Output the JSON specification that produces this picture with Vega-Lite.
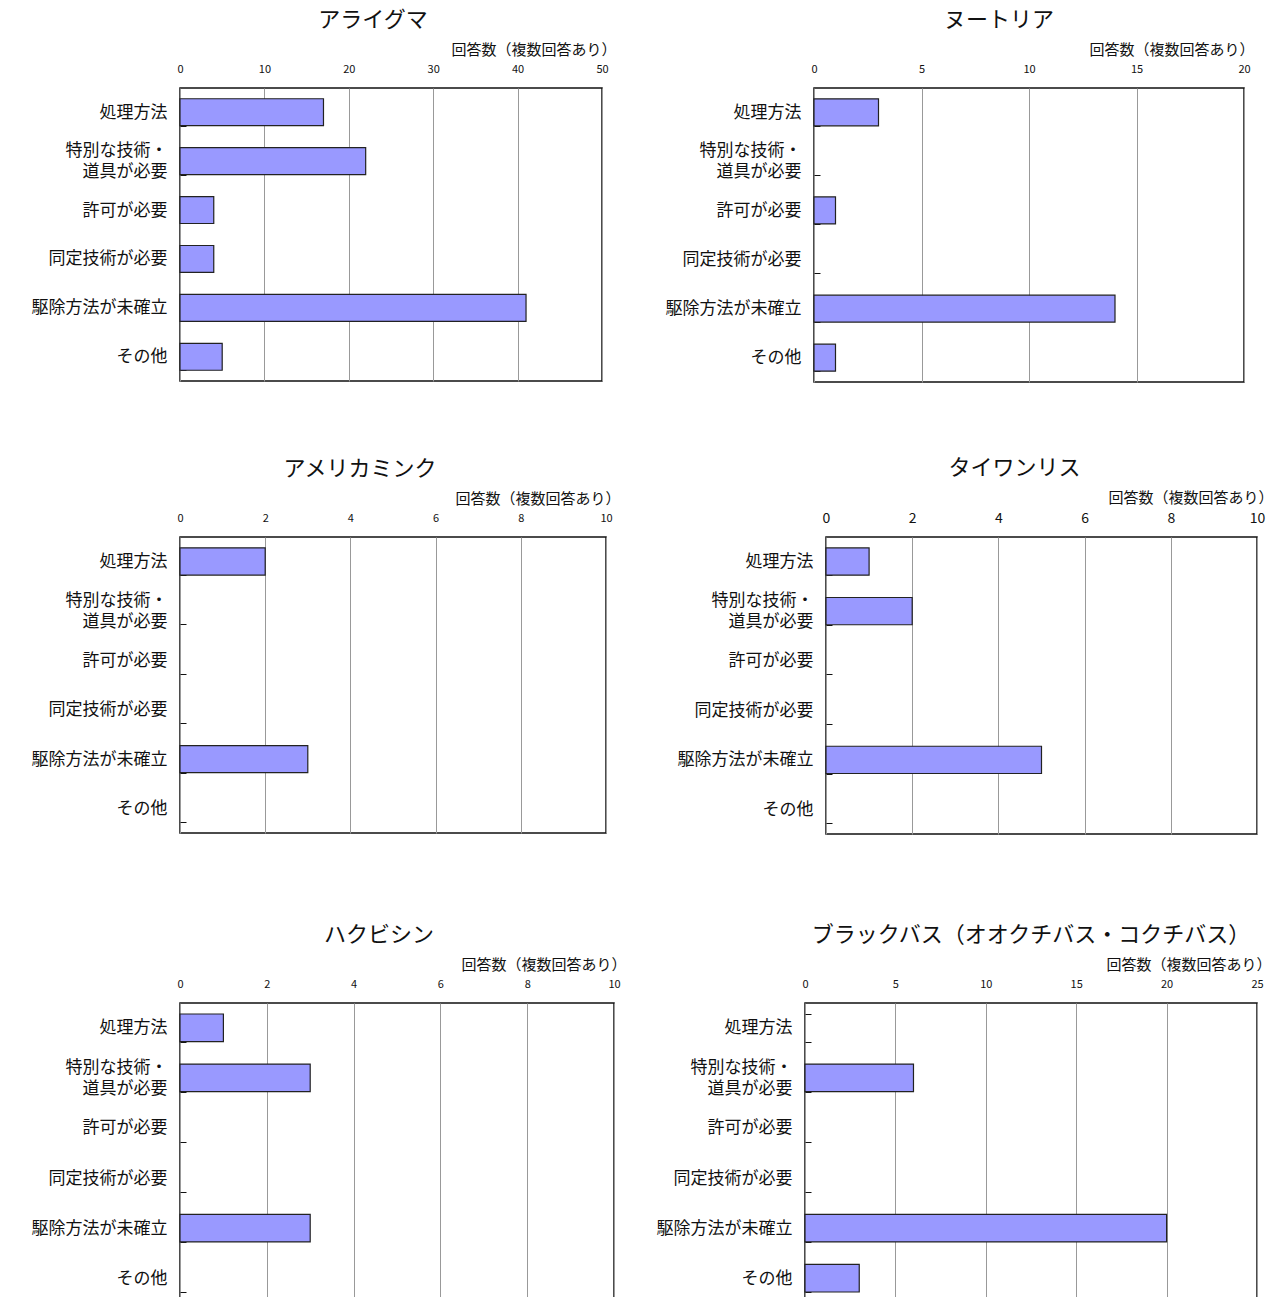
{
  "$schema": "https://vega.github.io/schema/vega-lite/v6.json",
  "padding": {"left": 30, "top": 8, "right": 5, "bottom": 0},
  "background": "white",
  "config": {
    "font": "Noto Sans CJK JP",
    "view": {"stroke": "#111", "strokeWidth": 1.5},
    "title": {"fontSize": 22, "fontWeight": "normal", "color": "#111", "anchor": "middle", "offset": 10},
    "axisX": {
      "orient": "top", "grid": true, "gridColor": "#999", "gridWidth": 1,
      "ticks": false, "domain": false, "labelFontSize": 11, "labelColor": "#111",
      "labelPadding": 14, "labelFlush": false,
      "titleFontSize": 15, "titleFontWeight": "normal",
      "titleColor": "#111", "titleAnchor": "end", "titleAlign": "right", "titlePadding": 6
    },
    "axisY": {
      "title": null, "domain": false, "tickBand": "extent", "tickSize": -6,
      "tickColor": "#111", "labelFontSize": 17, "labelColor": "#111", "labelPadding": 19,
      "labelLineHeight": 21,
      "labelOffset": {"condition": {"test": "datum.value == '特別な技術・道具が必要'", "value": -10.5}, "value": 0},
      "labelExpr": "datum.label == '特別な技術・道具が必要' ? ['特別な技術・', '道具が必要'] : datum.label"
    },
    "bar": {"fill": "#9999ff", "stroke": "#222", "strokeWidth": 1.2}
  },
  "data": {
    "values": [
      {"species": "アライグマ", "item": "処理方法", "count": 17},
      {"species": "アライグマ", "item": "特別な技術・道具が必要", "count": 22},
      {"species": "アライグマ", "item": "許可が必要", "count": 4},
      {"species": "アライグマ", "item": "同定技術が必要", "count": 4},
      {"species": "アライグマ", "item": "駆除方法が未確立", "count": 41},
      {"species": "アライグマ", "item": "その他", "count": 5},
      {"species": "ヌートリア", "item": "処理方法", "count": 3},
      {"species": "ヌートリア", "item": "特別な技術・道具が必要", "count": 0},
      {"species": "ヌートリア", "item": "許可が必要", "count": 1},
      {"species": "ヌートリア", "item": "同定技術が必要", "count": 0},
      {"species": "ヌートリア", "item": "駆除方法が未確立", "count": 14},
      {"species": "ヌートリア", "item": "その他", "count": 1},
      {"species": "アメリカミンク", "item": "処理方法", "count": 2},
      {"species": "アメリカミンク", "item": "特別な技術・道具が必要", "count": 0},
      {"species": "アメリカミンク", "item": "許可が必要", "count": 0},
      {"species": "アメリカミンク", "item": "同定技術が必要", "count": 0},
      {"species": "アメリカミンク", "item": "駆除方法が未確立", "count": 3},
      {"species": "アメリカミンク", "item": "その他", "count": 0},
      {"species": "タイワンリス", "item": "処理方法", "count": 1},
      {"species": "タイワンリス", "item": "特別な技術・道具が必要", "count": 2},
      {"species": "タイワンリス", "item": "許可が必要", "count": 0},
      {"species": "タイワンリス", "item": "同定技術が必要", "count": 0},
      {"species": "タイワンリス", "item": "駆除方法が未確立", "count": 5},
      {"species": "タイワンリス", "item": "その他", "count": 0},
      {"species": "ハクビシン", "item": "処理方法", "count": 1},
      {"species": "ハクビシン", "item": "特別な技術・道具が必要", "count": 3},
      {"species": "ハクビシン", "item": "許可が必要", "count": 0},
      {"species": "ハクビシン", "item": "同定技術が必要", "count": 0},
      {"species": "ハクビシン", "item": "駆除方法が未確立", "count": 3},
      {"species": "ハクビシン", "item": "その他", "count": 0},
      {"species": "ブラックバス", "item": "処理方法", "count": 0},
      {"species": "ブラックバス", "item": "特別な技術・道具が必要", "count": 6},
      {"species": "ブラックバス", "item": "許可が必要", "count": 0},
      {"species": "ブラックバス", "item": "同定技術が必要", "count": 0},
      {"species": "ブラックバス", "item": "駆除方法が未確立", "count": 20},
      {"species": "ブラックバス", "item": "その他", "count": 3}
    ]
  },
  "spacing": 88,
  "vconcat": [
    {
      "spacing": 73,
      "vconcat": [
        {
          "spacing": 47,
          "hconcat": [
            {
              "title": {"text": "アライグマ", "dx": -18},
              "width": 422, "height": 293,
              "transform": [{"filter": "datum.species == 'アライグマ' && datum.count > 0"}],
              "mark": "bar",
              "encoding": {
                "x": {"field": "count", "type": "quantitative", "title": "回答数（複数回答あり）", "scale": {"domain": [0, 50], "nice": false}, "axis": {"values": [0, 10, 20, 30, 40, 50], "titleX": 436}},
                "y": {"field": "item", "type": "nominal", "scale": {"domain": ["処理方法", "特別な技術・道具が必要", "許可が必要", "同定技術が必要", "駆除方法が未確立", "その他"], "paddingInner": 0.45, "paddingOuter": 0.22}}
              }
            },
            {
              "title": {"text": "ヌートリア", "dx": -30},
              "width": 430, "height": 294,
              "transform": [{"filter": "datum.species == 'ヌートリア' && datum.count > 0"}],
              "mark": "bar",
              "encoding": {
                "x": {"field": "count", "type": "quantitative", "title": "回答数（複数回答あり）", "scale": {"domain": [0, 20], "nice": false}, "axis": {"values": [0, 5, 10, 15, 20], "titleX": 440}},
                "y": {"field": "item", "type": "nominal", "scale": {"domain": ["処理方法", "特別な技術・道具が必要", "許可が必要", "同定技術が必要", "駆除方法が未確立", "その他"], "paddingInner": 0.45, "paddingOuter": 0.22}}
              }
            }
          ]
        },
        {
          "spacing": 55,
          "hconcat": [
            {
              "title": {"text": "アメリカミンク", "dx": -33},
              "width": 426, "height": 296,
              "transform": [{"filter": "datum.species == 'アメリカミンク' && datum.count > 0"}],
              "mark": "bar",
              "encoding": {
                "x": {"field": "count", "type": "quantitative", "title": "回答数（複数回答あり）", "scale": {"domain": [0, 10], "nice": false}, "axis": {"values": [0, 2, 4, 6, 8, 10], "titleX": 440}},
                "y": {"field": "item", "type": "nominal", "scale": {"domain": ["処理方法", "特別な技術・道具が必要", "許可が必要", "同定技術が必要", "駆除方法が未確立", "その他"], "paddingInner": 0.45, "paddingOuter": 0.22}}
              }
            },
            {
              "title": {"text": "タイワンリス", "dx": -27},
              "width": 431, "height": 297,
              "transform": [{"filter": "datum.species == 'タイワンリス' && datum.count > 0"}],
              "mark": "bar",
              "encoding": {
                "x": {"field": "count", "type": "quantitative", "title": "回答数（複数回答あり）", "scale": {"domain": [0, 10], "nice": false}, "axis": {"values": [0, 2, 4, 6, 8, 10], "labelFontSize": 14, "labelPadding": 12, "titleX": 447}},
                "y": {"field": "item", "type": "nominal", "scale": {"domain": ["処理方法", "特別な技術・道具が必要", "許可が必要", "同定技術が必要", "駆除方法が未確立", "その他"], "paddingInner": 0.45, "paddingOuter": 0.22}}
              }
            }
          ]
        }
      ]
    },
    {
      "spacing": 28,
      "hconcat": [
        {
          "title": {"text": "ハクビシン", "dx": -18},
          "width": 434, "height": 300,
          "transform": [{"filter": "datum.species == 'ハクビシン' && datum.count > 0"}],
          "mark": "bar",
          "encoding": {
            "x": {"field": "count", "type": "quantitative", "title": "回答数（複数回答あり）", "scale": {"domain": [0, 10], "nice": false}, "axis": {"values": [0, 2, 4, 6, 8, 10], "titleX": 446}},
            "y": {"field": "item", "type": "nominal", "scale": {"domain": ["処理方法", "特別な技術・道具が必要", "許可が必要", "同定技術が必要", "駆除方法が未確立", "その他"], "paddingInner": 0.45, "paddingOuter": 0.22}}
          }
        },
        {
          "title": {"text": "ブラックバス（オオクチバス・コクチバス）", "dx": 0},
          "width": 452, "height": 300,
          "transform": [{"filter": "datum.species == 'ブラックバス' && datum.count > 0"}],
          "mark": "bar",
          "encoding": {
            "x": {"field": "count", "type": "quantitative", "title": "回答数（複数回答あり）", "scale": {"domain": [0, 25], "nice": false}, "axis": {"values": [0, 5, 10, 15, 20, 25], "titleX": 466}},
            "y": {"field": "item", "type": "nominal", "scale": {"domain": ["処理方法", "特別な技術・道具が必要", "許可が必要", "同定技術が必要", "駆除方法が未確立", "その他"], "paddingInner": 0.45, "paddingOuter": 0.22}}
          }
        }
      ]
    }
  ]
}
